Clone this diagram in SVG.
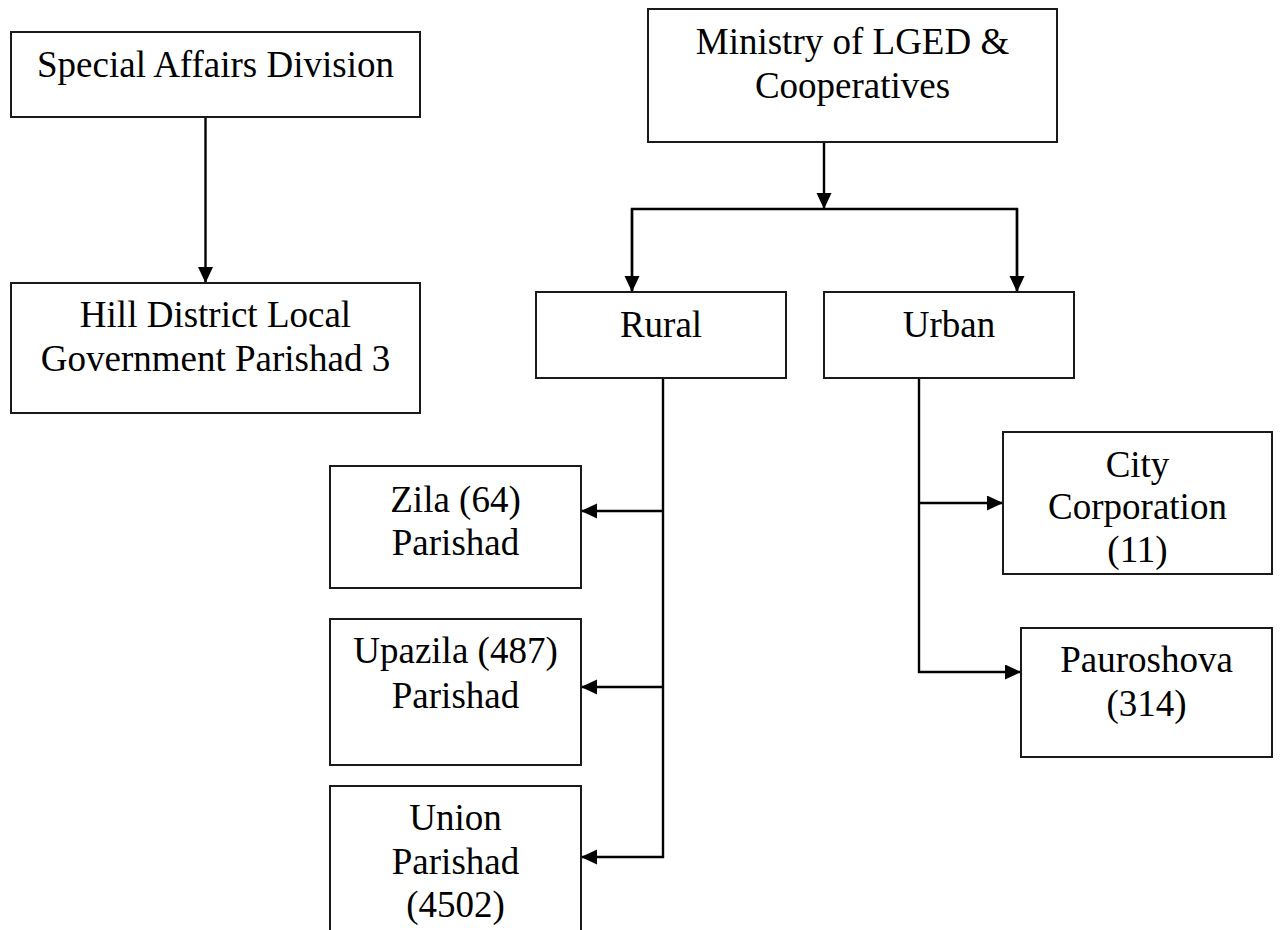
<svg xmlns="http://www.w3.org/2000/svg" width="1283" height="930" viewBox="0 0 1283 930">
<style>
.box{fill:#fff;stroke:#1a1a1a;stroke-width:2}
.t{font-family:"Liberation Serif","Times New Roman",serif;font-size:37px;fill:#000;text-anchor:middle}
.c{fill:none;stroke:#000;stroke-width:2.4}
</style>
<defs>
<marker id="ah" markerUnits="userSpaceOnUse" markerWidth="18" markerHeight="18" refX="16" refY="7.5" orient="auto">
<path d="M0,0 L16,7.5 L0,15 z" fill="#000"/>
</marker>
</defs>
<rect width="1283" height="930" fill="#fff"/>
<g id="connectors">
<line class="c" x1="205.5" y1="117" x2="205.5" y2="283" marker-end="url(#ah)"/>
<line class="c" x1="824" y1="142" x2="824" y2="209" marker-end="url(#ah)"/>
<polyline class="c" points="632,292 632,209 1017,209 1017,292"/>
<line class="c" x1="632" y1="209" x2="632" y2="292" marker-end="url(#ah)"/>
<line class="c" x1="1017" y1="209" x2="1017" y2="292" marker-end="url(#ah)"/>
<polyline class="c" points="663,378 663,857 581,857" marker-end="url(#ah)"/>
<line class="c" x1="663" y1="511" x2="581" y2="511" marker-end="url(#ah)"/>
<line class="c" x1="663" y1="687" x2="581" y2="687" marker-end="url(#ah)"/>
<polyline class="c" points="919,377 919,672 1021,672" marker-end="url(#ah)"/>
<line class="c" x1="919" y1="503" x2="1003" y2="503" marker-end="url(#ah)"/>
</g>
<g id="sad">
<rect class="box" x="11" y="32" width="409" height="85"/>
<text class="t" x="215.5" y="77">Special Affairs Division</text>
</g>
<g id="hill">
<rect class="box" x="11" y="283" width="409" height="130"/>
<text class="t" x="215.5" y="327">Hill District Local</text>
<text class="t" x="215.5" y="371">Government Parishad 3</text>
</g>
<g id="ministry">
<rect class="box" x="648" y="9" width="409" height="133"/>
<text class="t" x="852.5" y="54">Ministry of LGED &amp;</text>
<text class="t" x="852.5" y="98">Cooperatives</text>
</g>
<g id="rural">
<rect class="box" x="536" y="292" width="250" height="86"/>
<text class="t" x="661" y="337">Rural</text>
</g>
<g id="urban">
<rect class="box" x="824" y="292" width="250" height="86"/>
<text class="t" x="949" y="337">Urban</text>
</g>
<g id="zila">
<rect class="box" x="330" y="466" width="251" height="122"/>
<text class="t" x="455.5" y="512">Zila (64)</text>
<text class="t" x="455.5" y="555">Parishad</text>
</g>
<g id="upazila">
<rect class="box" x="330" y="619" width="251" height="146"/>
<text class="t" x="455.5" y="663">Upazila (487)</text>
<text class="t" x="455.5" y="708">Parishad</text>
</g>
<g id="union">
<rect class="box" x="330" y="786" width="251" height="160"/>
<text class="t" x="455.5" y="830">Union</text>
<text class="t" x="455.5" y="874">Parishad</text>
<text class="t" x="455.5" y="917">(4502)</text>
</g>
<g id="city">
<rect class="box" x="1003" y="432" width="269" height="142"/>
<text class="t" x="1137.5" y="477">City</text>
<text class="t" x="1137.5" y="519">Corporation</text>
<text class="t" x="1137.5" y="562">(11)</text>
</g>
<g id="pauroshova">
<rect class="box" x="1021" y="628" width="251" height="129"/>
<text class="t" x="1146.5" y="672">Pauroshova</text>
<text class="t" x="1146.5" y="716">(314)</text>
</g>
</svg>
